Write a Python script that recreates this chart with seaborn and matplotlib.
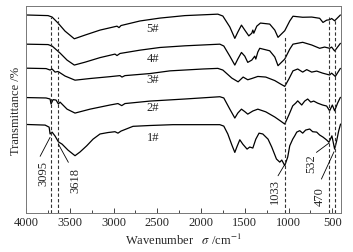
import numpy as np
import pandas as pd
import matplotlib
matplotlib.use("Agg")
import matplotlib.pyplot as plt
import seaborn as sns

# --- FTIR spectra (wavenumber, transmittance a.u.) ---
wn5 = [4000, 3749, 3703, 3635, 3555, 3449, 3326, 3155, 2961, 2938, 2915, 2699, 2470, 2185,
       1808, 1751, 1671, 1614, 1580, 1538, 1500, 1454, 1420, 1408, 1397, 1363, 1321, 1215,
       1157, 1120, 1043, 986, 949, 838, 735, 644, 606, 564, 530, 507, 473, 407]
t5 = [95.7, 95.4, 94.7, 91.8, 87.9, 84.2, 86.0, 88.4, 90.3, 89.6, 90.6, 92.8, 94.2, 95.4,
      96.1, 95.2, 89.9, 84.4, 87.4, 90.8, 88.4, 85.6, 86.9, 88.4, 86.9, 90.3, 91.8, 91.3,
      88.4, 84.9, 88.1, 92.8, 95.1, 94.6, 94.7, 94.1, 92.1, 93.2, 93.4, 94.0, 92.9, 95.7]

wn4 = [4000, 3749, 3703, 3612, 3532, 3449, 3326, 3155, 2984, 2961, 2927, 2699, 2470, 2185,
       1785, 1740, 1671, 1614, 1580, 1538, 1500, 1466, 1420, 1386, 1374, 1351, 1329, 1215,
       1157, 1120, 1043, 986, 949, 838, 735, 644, 587, 530, 507, 473, 407]
t4 = [81.6, 81.4, 80.7, 77.3, 73.9, 71.5, 72.9, 75.1, 76.8, 76.1, 77.1, 78.7, 80.0, 80.8,
      81.6, 80.7, 75.8, 71.5, 74.4, 77.6, 75.8, 72.8, 73.9, 75.8, 74.4, 77.8, 79.6, 78.4,
      75.4, 71.2, 74.4, 79.2, 81.6, 82.5, 81.2, 79.6, 80.2, 79.6, 80.2, 78.3, 82.0]

wn3 = [4000, 3772, 3726, 3703, 3669, 3635, 3555, 3441, 3269, 3041, 2927, 2904, 2870, 2584,
       2356, 1979, 1808, 1751, 1648, 1576, 1519, 1466, 1420, 1351, 1260, 1157, 1089, 1043,
       997, 949, 895, 838, 792, 735, 678, 610, 530, 507, 465, 407]
t3 = [70.0, 69.8, 69.1, 69.6, 68.1, 68.4, 66.2, 64.2, 65.0, 65.9, 66.4, 65.7, 66.4, 67.4,
      68.7, 69.6, 69.9, 69.1, 65.2, 63.4, 65.7, 64.4, 65.0, 66.0, 65.7, 64.0, 62.3, 61.2,
      64.7, 68.7, 69.6, 68.1, 69.3, 68.1, 68.6, 67.6, 66.7, 67.6, 66.0, 69.9]

wn2 = [4000, 3772, 3726, 3715, 3692, 3658, 3631, 3612, 3532, 3441, 3269, 3041, 2950, 2907,
       2870, 2584, 2185, 1785, 1740, 1671, 1614, 1580, 1538, 1500, 1466, 1408, 1351, 1260,
       1157, 1089, 1043, 997, 952, 918, 895, 849, 815, 781, 746, 712, 667, 610, 564, 530,
       499, 473, 439, 407]
t2 = [55.8, 55.6, 55.1, 52.7, 54.8, 54.6, 52.7, 53.6, 50.2, 48.3, 50.2, 52.2, 52.9, 51.9,
      52.9, 54.1, 55.1, 56.2, 55.6, 50.2, 45.9, 48.3, 50.2, 49.0, 47.8, 49.3, 50.2, 48.9,
      46.4, 44.4, 43.0, 47.3, 51.8, 53.1, 54.2, 52.2, 54.1, 55.1, 53.6, 54.1, 53.1, 52.2,
      51.7, 49.4, 52.2, 49.4, 53.1, 55.9]

wn1 = [4000, 3783, 3737, 3726, 3703, 3669, 3631, 3589, 3521, 3441, 3384, 3307, 3235, 3155,
       3064, 2984, 2950, 2915, 2778, 2584, 2322, 1785, 1740, 1694, 1648, 1614, 1591, 1557,
       1523, 1474, 1443, 1408, 1374, 1337, 1294, 1234, 1192, 1138, 1100, 1077, 1043, 1009,
       986, 952, 929, 906, 872, 838, 804, 758, 724, 678, 644, 606, 564, 538, 504, 473, 450,
       427, 405]
t1 = [42.8, 42.5, 41.5, 38.2, 39.1, 37.2, 34.4, 33.3, 30.4, 27.7, 29.5, 32.5, 35.7, 38.2,
      38.9, 39.3, 38.6, 39.6, 41.9, 42.3, 42.7, 42.7, 42.0, 38.2, 32.9, 29.3, 31.9, 35.4,
      33.3, 30.9, 31.9, 31.4, 35.7, 38.6, 38.2, 35.7, 31.9, 26.1, 24.6, 25.6, 22.9, 27.1,
      32.5, 35.7, 37.3, 39.1, 39.8, 38.6, 40.1, 40.6, 39.3, 39.1, 37.7, 36.7, 35.3, 34.2,
      37.3, 30.9, 34.8, 39.6, 43.0]

sample_names = ["1#", "2#", "3#", "4#", "5#"]
sample_label_t = [36.7, 51.2, 64.7, 74.9, 89.4]

peak_pos = [3720, 3630, 1040, 535, 472]
peak_labels = ["3095", "3618", "1033", "532", "470"]
peak_top = [94.7, 94.7, 85.5, 94.7, 94.0]

rows = []
for name, w, t in zip(sample_names, [wn1, wn2, wn3, wn4, wn5], [t1, t2, t3, t4, t5]):
    rows.append(pd.DataFrame({"wn": w, "T": t, "sample": name}))
df = pd.concat(rows, ignore_index=True)

sns.set_style("ticks")
plt.rcParams["font.family"] = ["Liberation Serif", "DejaVu Serif"]
plt.rcParams["mathtext.fontset"] = "stix"

fig = plt.figure(figsize=(3.53, 2.53), dpi=100)
ax = fig.add_axes([0.074, 0.154, 0.892, 0.818])

for name in sample_names:
    sub = df[df["sample"] == name]
    sns.lineplot(data=sub, x="wn", y="T", ax=ax, color="black", lw=0.9,
                 estimator=None, sort=False, legend=False)

# dashed peak markers
ax.vlines(peak_pos, 0, peak_top, colors="#333333", linestyles=(0, (3, 2)), lw=0.8)

# rotated peak labels with leader lines
label_xy = [(3806, 19.8), (3441, 16.4), (1157, 10.8), (739, 24.5), (644, 8.4)]
leader = [((3840, 27.4), (3726, 36.6)), ((3517, 24.5), (3631, 33.3)),
          ((1120, 18.0), (1051, 22.9)), ((681, 29.3), (538, 33.8)),
          ((624, 16.4), (480, 29.6))]
for lab, (x, y), (p0, p1) in zip(peak_labels, label_xy, leader):
    ax.text(x, y, lab, rotation=90, ha="center", va="center", fontsize=9)
    ax.plot([p0[0], p1[0]], [p0[1], p1[1]], color="black", lw=0.6)

for name, t in zip(sample_names, sample_label_t):
    ax.text(2550, t, name, ha="center", va="center", fontsize=9)

ax.set_xlim(4000, 400)
ax.set_ylim(0, 100)
ax.set_xticks([4000, 3500, 3000, 2500, 2000, 1500, 1000, 500])
ax.set_xticks(np.arange(3750, 400, -500), minor=True)
ax.set_yticks([])
ax.tick_params(axis="x", direction="in", length=3.5, width=0.6, labelsize=9, pad=2)
ax.tick_params(axis="x", which="minor", direction="in", length=2, width=0.6)
for s in ax.spines.values():
    s.set_color("#777777")
    s.set_linewidth(0.7)

ax.set_xlabel(r"Wavenumber   $\sigma$ /cm$^{-1}$", fontsize=9, labelpad=3)
ax.set_ylabel("Transmittance /%", fontsize=9, labelpad=3)

fig.savefig("out.png", dpi=100)
